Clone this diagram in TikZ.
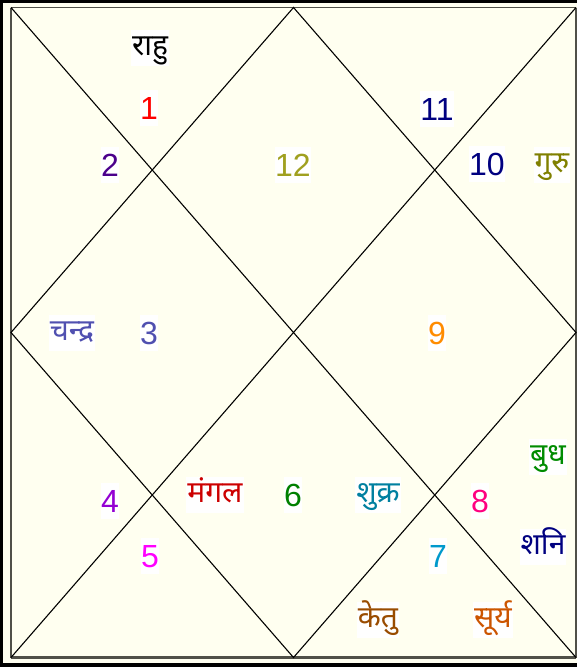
\documentclass[tikz,border=0pt]{standalone}
\usepackage{fontspec}
\setmainfont{Liberation Sans}
\newfontfamily\dev[Script=Devanagari]{Noto Sans}
\definecolor{cream}{RGB}{255,255,240}
\definecolor{cindigo}{RGB}{75,0,140}
\definecolor{colive}{RGB}{160,160,32}
\definecolor{cguru}{RGB}{128,128,0}
\definecolor{cnavy}{RGB}{0,0,128}
\definecolor{cslate}{RGB}{80,80,176}
\definecolor{corange}{RGB}{255,140,0}
\definecolor{cbudh}{RGB}{0,140,0}
\definecolor{cviolet}{RGB}{148,0,211}
\definecolor{cmangal}{RGB}{204,0,0}
\definecolor{csix}{RGB}{0,128,0}
\definecolor{cshukra}{RGB}{0,128,160}
\definecolor{cpink}{RGB}{255,0,128}
\definecolor{cmagenta}{RGB}{255,0,255}
\definecolor{csky}{RGB}{0,153,204}
\definecolor{cketu}{RGB}{153,76,0}
\definecolor{csurya}{RGB}{204,85,0}
\definecolor{cframe}{RGB}{80,80,72}
\tikzset{
  num/.style={fill=white, inner xsep=0pt, inner ysep=0pt, text height=29pt, text depth=7pt, font=\fontsize{32}{32}\selectfont},
  planet/.style={fill=white, inner xsep=1pt, inner ysep=0pt, text height=25pt, text depth=11pt, font=\dev\fontsize{30}{30}\selectfont},
  chartline/.style={line width=1.1pt, black}
}
\begin{document}
\begin{tikzpicture}[x=1pt,y=-1pt]
\useasboundingbox (0,0) rectangle (577,667);
\fill[cream] (0,0) rectangle (577,667);
% outer black frame
\draw[line width=3pt, black] (1.5,667) -- (1.5,1.2) -- (577,1.2);
\draw[line width=4pt, black] (0,665) -- (577,665);
% inner frame
\coordinate (tl) at (11,7.5);
\coordinate (tr) at (576,7.5);
\coordinate (bl) at (11,657.5);
\coordinate (br) at (576,657.5);
\coordinate (tm) at (293.5,7.5);
\coordinate (lm) at (11,332.5);
\coordinate (rm) at (576,332.5);
\coordinate (bm) at (293.5,657.5);
\draw[line width=1.6pt, cframe] (tl) -- (tr);
\draw[line width=1.8pt, cframe] (tl) -- (bl);
\draw[line width=2.5pt, cframe] (bl) -- (br);
\draw[line width=1.5pt, cframe] (tr) -- (br);
% chart lines
\draw[chartline] (tl) -- (br);
\draw[chartline] (tr) -- (bl);
\draw[chartline] (tm) -- (rm) -- (bm) -- (lm) -- cycle;
% texts
\node[planet] (rahu) at (150,48) {राहु};
\node[num, text=red] (h1) at (149,108) {1};
\node[num, text=cindigo] (h2) at (110,165) {2};
\node[num, text=colive] (h12) at (293,165) {12};
\node[num, text=cnavy] (h11) at (437,109) {11};
\node[num, text=cnavy] (h10) at (487,164) {10};
\node[planet, text=cguru] (guru) at (552,165) {गुरु};
\node[planet, text=cslate] (chandra) at (72,333) {चन्द्र};
\node[num, text=cslate] (h3) at (149,333) {3};
\node[num, text=corange] (h9) at (437,333) {9};
\node[planet, text=cbudh] (budh) at (548,457) {बुध};
\node[num, text=cviolet] (h4) at (110,501) {4};
\node[planet, text=cmangal] (mangal) at (215,495) {मंगल};
\node[num, text=csix] (h6) at (293,495) {6};
\node[planet, text=cshukra] (shukra) at (378,495) {शुक्र};
\node[num, text=cpink] (h8) at (480,501) {8};
\node[planet, text=cnavy] (shani) at (543,547) {शनि};
\node[num, text=cmagenta] (h5) at (150,556) {5};
\node[num, text=csky] (h7) at (438,556) {7};
\node[planet, text=cketu] (ketu) at (378,620) {केतु};
\node[planet, text=csurya] (surya) at (493,620) {सूर्य};
\end{tikzpicture}
\end{document}
